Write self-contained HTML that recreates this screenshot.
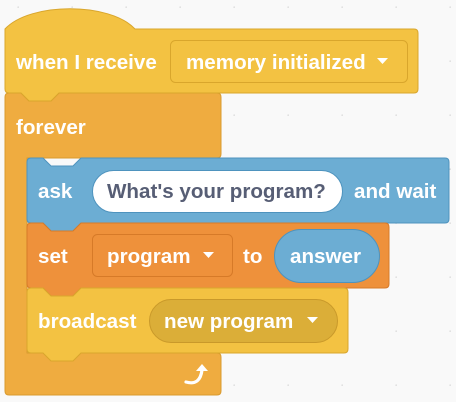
<!DOCTYPE html>
<html><head><style>
html,body{margin:0;padding:0;background:#F9F9F9;}
svg{display:block}
text{font-family:"Liberation Sans",sans-serif;font-weight:bold;font-size:20.6px;fill:#fff;}
</style></head><body>
<svg width="456" height="402" viewBox="0 0 456 402" xmlns="http://www.w3.org/2000/svg">
<defs>
<pattern id="dots" x="18" y="7" width="54" height="54" patternUnits="userSpaceOnUse">
<circle cx="0.5" cy="0.5" r="1" fill="#D9D9D9"/>
</pattern>
</defs>
<rect x="0" y="0" width="456" height="402" fill="#F9F9F9"/>
<rect x="0" y="0" width="456" height="402" fill="url(#dots)" transform="translate(-0.5,-0.5)"/>

<path d="M5,97 q0,-4 4,-4 H21 l8,8 H51 l8,-8 H217 q4,0 4,4 V154 q0,4 -4,4 H27 V353 H217 q4,0 4,4 V391 q0,4 -4,4 H9 q-4,0 -4,-4 Z" fill="#EFAC40" stroke="#D99A2E" stroke-width="1"/>

<path d="M5,29 C30,2 110,2 135,29 H414 q4,0 4,4 V89 q0,4 -4,4 H59 l-8,8 H29 l-8,-8 H9 q-4,0 -4,-4 Z" fill="#F3C242" stroke="#D9A62C" stroke-width="1"/>
<rect x="170.5" y="40.5" width="237" height="42" rx="5" fill="#F3C242" stroke="#D9A62C"/>
<text x="16" y="69">when I receive</text>
<text x="186" y="69">memory initialized</text>
<path d="M377,58 h11 l-5.5,6 z" fill="#fff"/>
<text x="16" y="134">forever</text>

<path d="M27,162 q0,-4 4,-4 H43 l8,8 H73 l8,-8 H445 q4,0 4,4 V219 q0,4 -4,4 H81 l-8,8 H51 l-8,-8 H31 q-4,0 -4,-4 Z" fill="#6CADD3" stroke="#4E93BE" stroke-width="1"/>
<rect x="92.5" y="170.5" width="250" height="42" rx="21" fill="#fff" stroke="#4E93BE"/>
<text x="38" y="198">ask</text>
<text x="107" y="198" style="fill:#575E75">What's your program?</text>
<text x="354" y="198">and wait</text>

<path d="M27,227 q0,-4 4,-4 H43 l8,8 H73 l8,-8 H385 q4,0 4,4 V284 q0,4 -4,4 H81 l-8,8 H51 l-8,-8 H31 q-4,0 -4,-4 Z" fill="#EE913B" stroke="#D67A28" stroke-width="1"/>
<rect x="92.5" y="234.5" width="140" height="42" rx="5" fill="#EE913B" stroke="#D67A28"/>
<rect x="274.5" y="229.5" width="105" height="53" rx="26.5" fill="#6CADD3" stroke="#4E93BE"/>
<text x="38" y="263">set</text>
<text x="107" y="263">program</text>
<path d="M203,252 h11 l-5.5,6 z" fill="#fff"/>
<text x="243" y="263">to</text>
<text x="290" y="263">answer</text>

<path d="M27,292 q0,-4 4,-4 H43 l8,8 H73 l8,-8 H344 q4,0 4,4 V349 q0,4 -4,4 H81 l-8,8 H51 l-8,-8 H31 q-4,0 -4,-4 Z" fill="#F3C242" stroke="#D9A62C" stroke-width="1"/>
<rect x="149.5" y="299.5" width="188" height="43" rx="21.5" fill="#DBAE38" stroke="#C9992A"/>
<text x="38" y="328">broadcast</text>
<text x="164" y="328">new program</text>
<path d="M307,317 h11 l-5.5,6 z" fill="#fff"/>

<path d="M186,382 q14,4 16,-12" fill="none" stroke="#fff" stroke-width="3.2" stroke-linecap="round"/>
<path d="M196,371 l6,-7 l6,7 z" fill="#fff"/>
</svg>
</body></html>
